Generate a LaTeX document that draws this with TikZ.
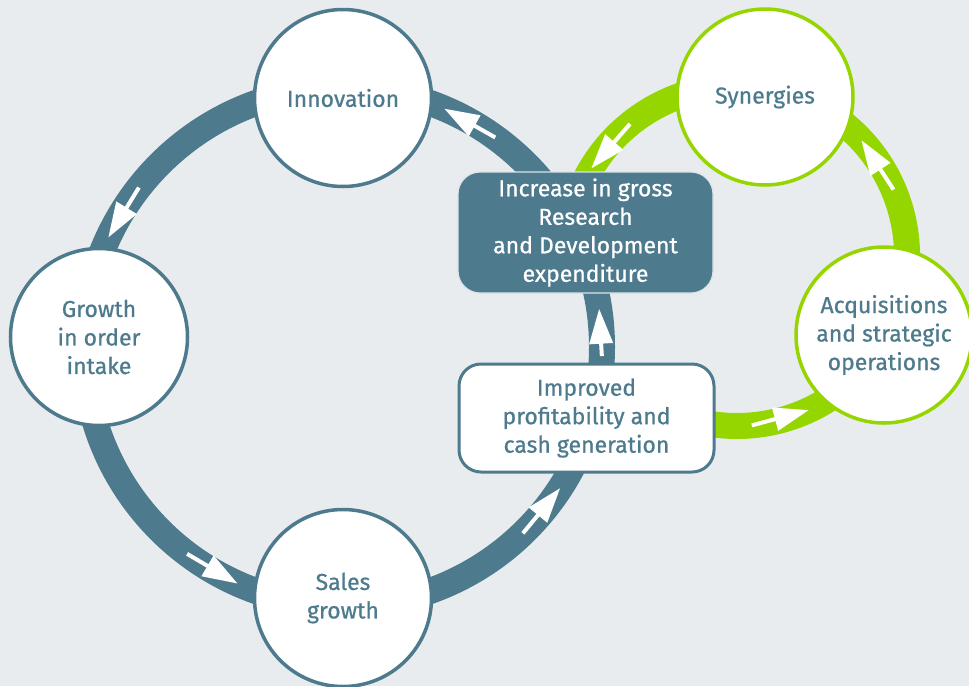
\documentclass[tikz,border=0pt]{standalone}
\usepackage{fontspec}
\setmainfont{Fira Sans}[FakeBold=0.7]
\usetikzlibrary{arrows.meta}
\definecolor{bluec}{HTML}{4D7A8D}
\definecolor{greenc}{HTML}{95D600}
\definecolor{bgc}{HTML}{E8ECEE}
\begin{document}
\begin{tikzpicture}[x=1pt,y=1pt,
  txt/.style={font=\fontsize{23}{28.5}\selectfont, align=center, text=bluec},
  bcirc/.style={circle, draw=bluec, line width=3.5pt, fill=white, minimum size=177pt, inner sep=0pt, txt},
  gcirc/.style={circle, draw=greenc, line width=3.5pt, fill=white, minimum size=176pt, inner sep=0pt, txt},
  rdbox/.style={rounded corners=22pt, fill=bluec, draw=white!80!bluec, line width=1.2pt, minimum width=255pt, minimum height=121pt, inner sep=0pt, txt, text=white},
  impbox/.style={rounded corners=22pt, fill=white, draw=bluec, line width=3pt, minimum width=255pt, minimum height=108pt, inner sep=0pt, txt},
  band/.style={line width=26pt},
  flow/.style={white, line width=4pt, -{Triangle[length=35pt,width=23pt]}}
]
\fill[bgc] (0,0) rectangle (969,-686);
\useasboundingbox (0,0) rectangle (969,-686);
\coordinate (bc) at (343,-347);
\coordinate (gc) at (737,-256);
% rings
\draw[bluec, band] (bc) circle (259);
\draw[greenc, band] ([shift={(160:170)}]gc) arc[start angle=160, end angle=-125, radius=170];
% flow arrows on blue ring
\draw[flow] ([shift={(54:259)}]bc) -- ([shift={(67:259)}]bc);
\draw[flow] ([shift={(142:259)}]bc) -- ([shift={(155:259)}]bc);
\draw[flow] ([shift={(233:259)}]bc) -- ([shift={(246:259)}]bc);
\draw[flow] ([shift={(-46:259)}]bc) -- ([shift={(-33:259)}]bc);
\draw[flow] ([shift={(-2:259)}]bc) -- ([shift={(8.5:259)}]bc);
% flow arrows on green ring
\draw[flow] ([shift={(129:170)}]gc) -- ([shift={(149:170)}]gc);
\draw[flow] ([shift={(23:170)}]gc) -- ([shift={(43:170)}]gc);
\draw[flow] ([shift={(-85:170)}]gc) -- ([shift={(-65:170)}]gc);
% nodes
\node[bcirc] (inn) at (343,-98) {Innovation};
\node[bcirc] (gro) at (99,-337) {Growth\\in order\\intake};
\node[bcirc] (sal) at (343,-598) {Sales\\growth};
\node[gcirc] (syn) at (765,-97) {Synergies};
\node[gcirc] (acq) at (884,-335) {Acquisitions\\and strategic\\operations};
\node[rdbox] (rd) at (585.5,-232.5) {Increase in gross\\Research\\and Development\\expenditure};
\node[impbox] (imp) at (586.5,-418) {Improved\\profitability and\\cash generation};
\end{tikzpicture}
\end{document}
